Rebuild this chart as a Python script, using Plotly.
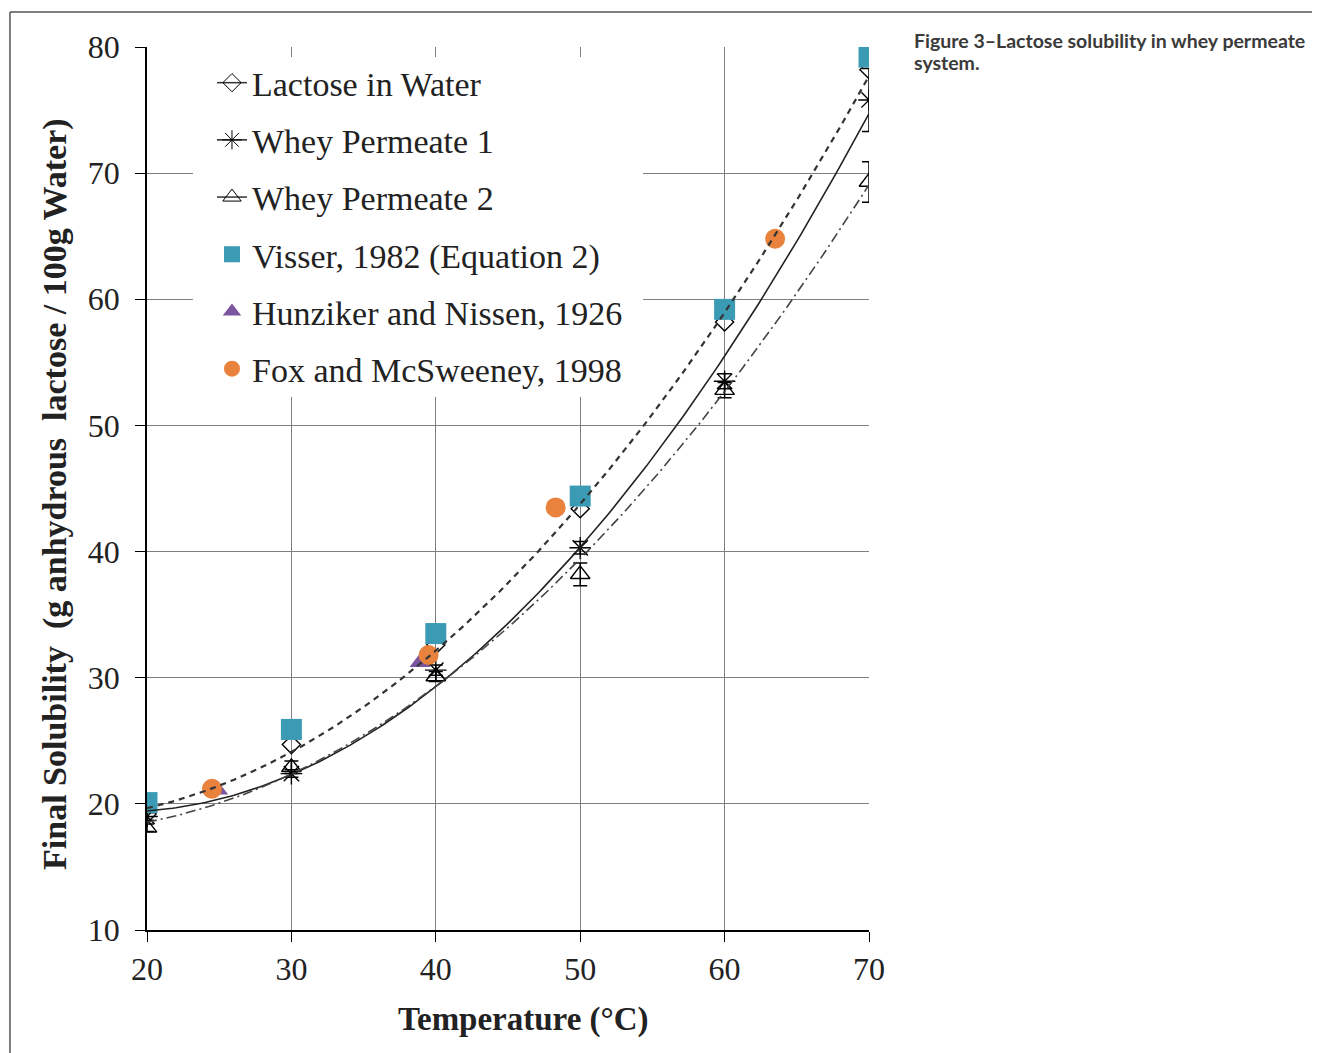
import numpy as np
import plotly.graph_objects as go

# ---- data ----
temps = [20, 30, 40, 50, 60, 70]
lactose_water = [19.2, 24.7, 32.6, 43.4, 58.2, 78.2]
whey1 = [19.0, 22.4, 30.6, 40.3, 53.5, 75.8]
whey1_err = [0.3, 0.3, 0.4, 0.5, 0.6, 2.5]
whey2 = [18.1, 22.9, 30.1, 38.2, 52.8, 69.3]
whey2_err = [0.3, 0.5, 0.4, 0.9, 0.6, 1.6]
visser_t = [20, 30, 40, 50, 60, 70]
visser = [20.1, 25.9, 33.5, 44.4, 59.2, 79.2]
hunz_t = [24.9, 38.9]
hunz = [21.1, 31.2]
fox_t = [24.5, 39.5, 48.3, 63.5]
fox = [21.2, 31.8, 43.5, 64.8]

x_ticks = [20, 30, 40, 50, 60, 70]
y_ticks = [10, 20, 30, 40, 50, 60, 70, 80]

SERIF = "Liberation Serif"
TEAL = "#3b9ab4"
PURPLE = "#7b559e"
ORANGE = "#e8823c"
NB = "\u00a0"

fig = go.Figure()

xs = np.linspace(20, 70, 200)
curve_styles = [
    (lactose_water, dict(color="#333333", width=2.2, dash="6px,5px")),
    (whey1, dict(color="#222222", width=1.6, dash="solid")),
    (whey2, dict(color="#444444", width=1.6, dash="10px,4px,2px,4px")),
]

fig.add_trace(go.Scatter(x=temps, y=whey2, mode="markers", showlegend=False,
                         marker=dict(symbol="triangle-up-open", size=17, color="black",
                                     line=dict(width=1.4, color="black")),
                         error_y=dict(type="data", array=whey2_err, color="black",
                                      thickness=1.5, width=7)))
fig.add_trace(go.Scatter(x=temps, y=whey1, mode="markers", showlegend=False,
                         marker=dict(symbol="asterisk-open", size=18, color="black",
                                     line=dict(width=1.4, color="black")),
                         error_y=dict(type="data", array=whey1_err, color="black",
                                      thickness=1.5, width=7)))
fig.add_trace(go.Scatter(x=temps, y=lactose_water, mode="markers", showlegend=False,
                         marker=dict(symbol="diamond-open", size=14, color="black",
                                     line=dict(width=1.4, color="black"))))
fig.add_trace(go.Scatter(x=visser_t, y=visser, mode="markers", showlegend=False,
                         marker=dict(symbol="square", size=21, color=TEAL)))
fig.add_trace(go.Scatter(x=hunz_t, y=hunz, mode="markers", showlegend=False,
                         marker=dict(symbol="triangle-up", size=18, color=PURPLE)))
fig.add_trace(go.Scatter(x=fox_t, y=fox, mode="markers", showlegend=False,
                         marker=dict(symbol="circle", size=20, color=ORANGE)))

for vals, st in curve_styles:
    coef = np.polyfit(temps, vals, 2)
    fig.add_trace(go.Scatter(x=xs, y=np.polyval(coef, xs), mode="lines",
                             showlegend=False, line=st, hoverinfo="skip"))

leg = [
    ("Lactose in Water", "lines+markers", dict(symbol="diamond-open", size=14, color="black"),
     dict(color="#333333", width=1.5, dash="solid")),
    ("Whey Permeate 1", "lines+markers", dict(symbol="asterisk-open", size=18, color="black"),
     dict(color="#222222", width=1.5, dash="solid")),
    ("Whey Permeate 2", "lines+markers", dict(symbol="triangle-up-open", size=16, color="black"),
     dict(color="#333333", width=1.5, dash="solid")),
    ("Visser, 1982 (Equation 2)", "markers", dict(symbol="square", size=20, color=TEAL), None),
    ("Hunziker and Nissen, 1926", "markers", dict(symbol="triangle-up", size=17, color=PURPLE), None),
    ("Fox and McSweeney, 1998", "markers", dict(symbol="circle", size=20, color=ORANGE), None),
]
for i, (name, mode, mk, ln) in enumerate(leg):
    kw = dict(x=[None], y=[None], mode=mode, name=name, marker=mk,
              legendgroup=f"g{i}", legendrank=i + 1)
    if ln is not None:
        kw["line"] = ln
    fig.add_trace(go.Scatter(**kw))

y_title = f"<b>Final Solubility {NB}(g anhydrous {NB}lactose / 100g Water)</b>"

fig.update_layout(
    width=1312, height=1045,
    margin=dict(l=139, r=451, t=39, b=123),
    paper_bgcolor="white", plot_bgcolor="white",
    font=dict(family=SERIF, color="#222222"),
    legend=dict(x=0.090, y=0.992, xanchor="left", yanchor="top",
                bgcolor="rgba(0,0,0,0)", borderwidth=0, tracegroupgap=10,
                font=dict(family=SERIF, size=34, color="#222222")),
    xaxis=dict(range=[20, 70], tickvals=x_ticks, ticktext=[str(v) for v in x_ticks],
               showgrid=True, gridcolor="#808080", gridwidth=1.3,
               showline=True, linecolor="black", linewidth=1.6,
               ticks="outside", ticklen=10, tickcolor="black", tickwidth=1.4,
               ticklabelstandoff=0, zeroline=False,
               tickfont=dict(family=SERIF, size=32, color="#222222")),
    yaxis=dict(range=[10, 80], tickvals=y_ticks, ticktext=[str(v) for v in y_ticks],
               showgrid=True, gridcolor="#808080", gridwidth=1.3,
               showline=True, linecolor="black", linewidth=1.6,
               ticks="outside", ticklen=10, tickcolor="black", tickwidth=1.4,
               ticklabelstandoff=9, zeroline=False,
               tickfont=dict(family=SERIF, size=32, color="#222222")),
    annotations=[
        dict(xref="paper", yref="paper", x=1.0596, y=1.0079,
             xanchor="left", yanchor="middle", align="left", showarrow=False,
             text="<b>Figure 3–Lactose solubility in whey permeate</b>",
             font=dict(family="Lato", size=19.5, color="#3a3a3a")),
        dict(xref="paper", yref="paper", x=1.0596, y=0.9819,
             xanchor="left", yanchor="middle", align="left", showarrow=False,
             text="<b>system.</b>",
             font=dict(family="Lato", size=19.5, color="#3a3a3a")),
        dict(xref="paper", yref="paper", x=0.5208, y=-0.1019,
             xanchor="center", yanchor="middle", showarrow=False,
             text="<b>Temperature (°C)</b>",
             font=dict(family=SERIF, size=33, color="#222222")),
        dict(xref="paper", yref="paper", x=-0.1274, y=0.4938, textangle=-90,
             xanchor="center", yanchor="middle", showarrow=False,
             text=y_title,
             font=dict(family=SERIF, size=34, color="#222222")),
    ],
    shapes=[
        dict(type="rect", xref="paper", yref="paper", x0=0.0637, x1=0.687,
             y0=0.6036, y1=0.9887, fillcolor="white", line=dict(width=0),
             layer="above"),
        dict(type="line", xref="paper", yref="paper", x0=-0.1898, x1=-0.1898,
             y0=-0.2, y1=1.0396, line=dict(color="#555555", width=1.5)),
        dict(type="line", xref="paper", yref="paper", x0=-0.1898, x1=1.7,
             y0=1.0396, y1=1.0396, line=dict(color="#555555", width=1.5)),
    ],
)

fig.write_html("out.html")
